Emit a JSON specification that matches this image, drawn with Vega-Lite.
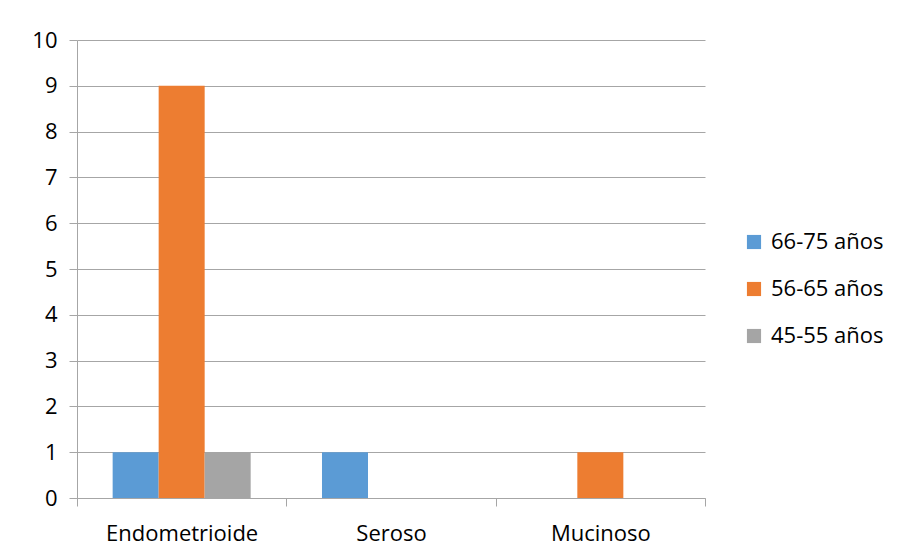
{
  "$schema": "https://vega.github.io/schema/vega-lite/v6.json",
  "width": 628,
  "height": 458,
  "autosize": {"type": "none"},
  "padding": {"left": 77, "top": 40, "right": 197, "bottom": 60},
  "background": "white",
  "data": {
    "values": [
      {"tipo": "Endometrioide", "edad": "66-75 años", "n": 1},
      {"tipo": "Endometrioide", "edad": "56-65 años", "n": 9},
      {"tipo": "Endometrioide", "edad": "45-55 años", "n": 1},
      {"tipo": "Seroso", "edad": "66-75 años", "n": 1},
      {"tipo": "Seroso", "edad": "56-65 años", "n": 0},
      {"tipo": "Seroso", "edad": "45-55 años", "n": 0},
      {"tipo": "Mucinoso", "edad": "66-75 años", "n": 0},
      {"tipo": "Mucinoso", "edad": "56-65 años", "n": 1},
      {"tipo": "Mucinoso", "edad": "45-55 años", "n": 0}
    ]
  },
  "mark": {"type": "bar"},
  "encoding": {
    "x": {
      "field": "tipo",
      "type": "nominal",
      "sort": ["Endometrioide", "Seroso", "Mucinoso"],
      "scale": {"paddingInner": 0, "paddingOuter": 0},
      "axis": {
        "title": null,
        "labelAngle": 0,
        "labelFontSize": 22,
        "labelColor": "#000000",
        "labelPadding": 17,
        "tickBand": "extent",
        "ticks": true,
        "tickSize": 8,
        "tickColor": "#A6A6A6",
        "domainColor": "#A6A6A6",
        "grid": false
      }
    },
    "xOffset": {
      "field": "edad",
      "sort": ["66-75 años", "56-65 años", "45-55 años"],
      "scale": {"paddingInner": 0, "paddingOuter": 0.775}
    },
    "y": {
      "field": "n",
      "type": "quantitative",
      "scale": {"domain": [0, 10], "nice": false},
      "axis": {
        "title": null,
        "values": [0, 1, 2, 3, 4, 5, 6, 7, 8, 9, 10],
        "labelFontSize": 22,
        "labelColor": "#000000",
        "labelPadding": 12,
        "tickSize": 8,
        "tickColor": "#A6A6A6",
        "domainColor": "#A6A6A6",
        "gridColor": "#A6A6A6",
        "grid": true
      }
    },
    "color": {
      "field": "edad",
      "type": "nominal",
      "sort": ["66-75 años", "56-65 años", "45-55 años"],
      "scale": {
        "domain": ["66-75 años", "56-65 años", "45-55 años"],
        "range": ["#5B9BD5", "#ED7D31", "#A5A5A5"]
      },
      "legend": {
        "title": null,
        "orient": "none",
        "legendX": 666,
        "legendY": 191,
        "symbolType": "square",
        "symbolSize": 200,
        "symbolStrokeWidth": 0,
        "labelFontSize": 22,
        "labelColor": "#000000",
        "labelOffset": 6,
        "rowPadding": 25
      }
    }
  },
  "config": {
    "view": {"stroke": null},
    "font": "Open Sans"
  }
}
